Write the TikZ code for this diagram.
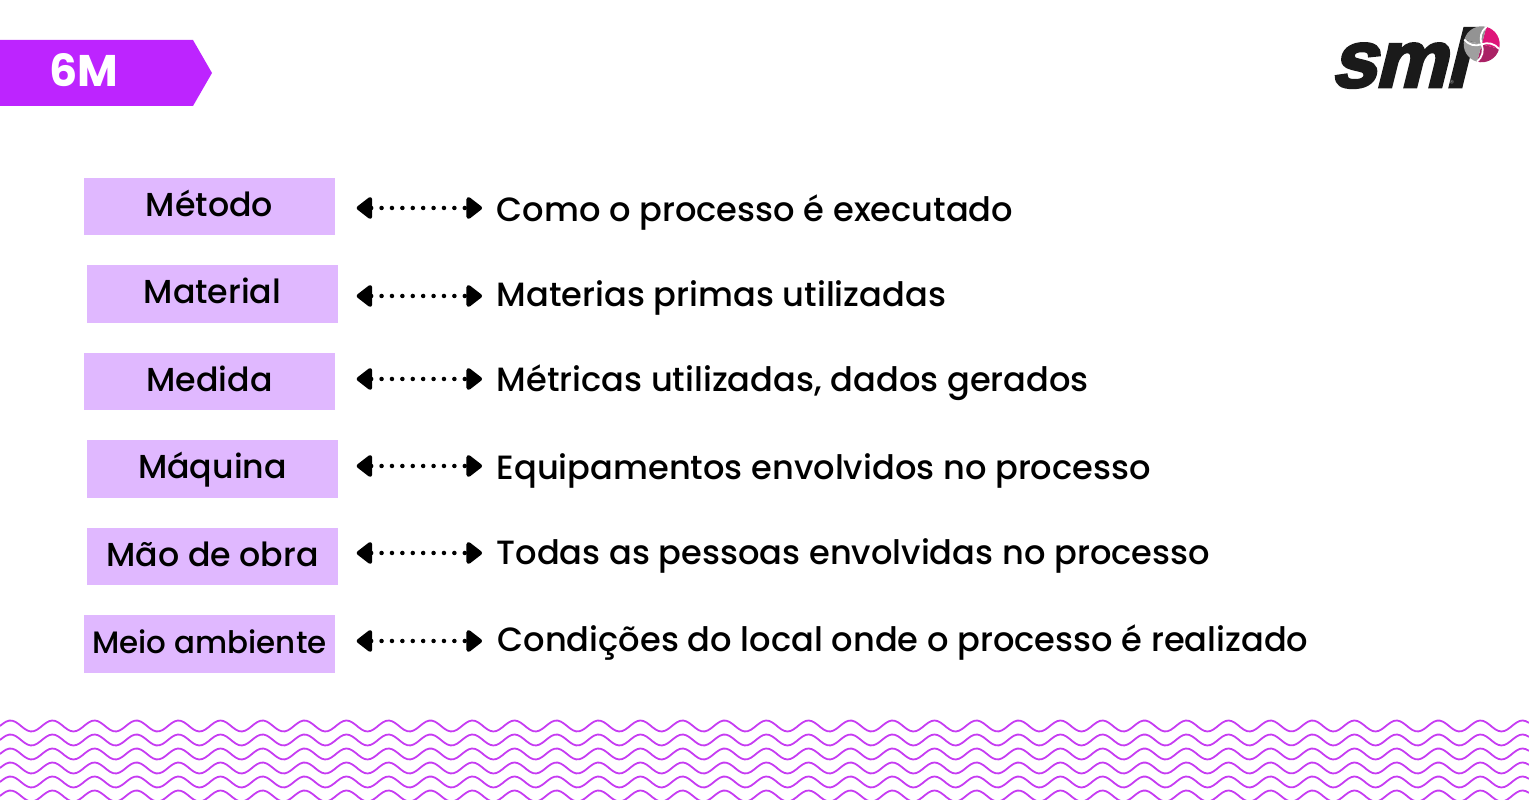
\documentclass[tikz,border=0pt]{standalone}
\usepackage{fontspec}
\setmainfont{Poppins Medium}[BoldFont=Poppins Bold]
\newfontfamily\logofont[FakeSlant=0.25,FakeBold=3.5,LetterSpace=-2]{Liberation Sans Bold}
\usepackage{xcolor}
\usetikzlibrary{arrows.meta,positioning,calc}
\definecolor{bannerpurple}{HTML}{BD24FF}
\definecolor{boxlilac}{HTML}{E0B8FF}
\definecolor{wavepurple}{HTML}{C63CF2}
\definecolor{logopink}{HTML}{DE1579}
\definecolor{logoblack}{HTML}{1A1A1A}
\tikzset{
  mbox/.style={fill=boxlilac,minimum width=2.51cm,minimum height=0.575cm,inner sep=0pt,text height=0.25cm,text depth=0.055cm,font=\fontsize{9.45}{12}\selectfont},
  desc/.style={anchor=west,inner sep=0pt,text height=0.25cm,text depth=0.09cm,font=\fontsize{9.57}{12}\selectfont},
  link/.style={line width=0.045cm,line cap=round,dash pattern=on 0pt off 0.104cm,{Triangle[length=0.17cm,width=0.25cm,round]}-{Triangle[length=0.17cm,width=0.25cm,round]}},
  wave/.style={wavepurple,line width=0.018cm}
}
\begin{document}
\begin{tikzpicture}
    \useasboundingbox (0,0) rectangle (15.29,8);
    \begin{scope}
    \clip (0,0) rectangle (15.29,8);
    \foreach \yrow in {0.04,0.18,...,0.74} {
        \draw[wave] plot[domain=0:15.29,samples=500] (\x,{\yrow+0.055*sin(\x/0.42*360)});
    }
    \end{scope}

    \fill[bannerpurple] (0,7.6) -- (1.93,7.6) -- (2.12,7.27) -- (1.93,6.94) -- (0,6.94) -- cycle;
    \node[white,font=\fontsize{12.6}{14}\bfseries] (title) at (0.84,7.3) {6M};

    \node[mbox] (metodo) at (2.095,5.935) {Método};
    \node[mbox] (material) at (2.125,5.06) {Material};
    \node[mbox] (medida) at (2.095,4.185) {Medida};
    \node[mbox] (maquina) at (2.125,3.31) {Máquina};
    \node[mbox] (maodeobra) at (2.125,2.435) {Mão de obra};
    \node[mbox,font=\fontsize{8.8}{12}\selectfont] (meio) at (2.095,1.56) {Meio ambiente};

    \node[desc] (dmetodo) at (4.96,5.86) {Como o processo é executado};
    \node[desc] (dmaterial) at (4.96,5.01) {Materias primas utilizadas};
    \node[desc] (dmedida) at (4.96,4.16) {Métricas utilizadas, dados gerados};
    \node[desc] (dmaquina) at (4.96,3.28) {Equipamentos envolvidos no processo};
    \node[desc] (dmaodeobra) at (4.96,2.43) {Todas as pessoas envolvidas no processo};
    \node[desc] (dmeio) at (4.97,1.56) {Condições do local onde o processo é realizado};

    \draw[link,shorten <=0.21cm,shorten >=0.14cm] (metodo.east |- 0,5.92) -- (dmetodo.west |- 0,5.92);
    \draw[link,shorten <=0.18cm,shorten >=0.14cm] (material.east |- 0,5.04) -- (dmaterial.west |- 0,5.04);
    \draw[link,shorten <=0.21cm,shorten >=0.14cm] (medida.east |- 0,4.21) -- (dmedida.west |- 0,4.21);
    \draw[link,shorten <=0.18cm,shorten >=0.14cm] (maquina.east |- 0,3.34) -- (dmaquina.west |- 0,3.34);
    \draw[link,shorten <=0.18cm,shorten >=0.14cm] (maodeobra.east |- 0,2.47) -- (dmaodeobra.west |- 0,2.47);
    \draw[link,shorten <=0.21cm,shorten >=0.15cm] (meio.east |- 0,1.59) -- (dmeio.west |- 0,1.59);

    % logo
    \node[anchor=base west,inner sep=0pt,logoblack,font=\fontsize{23}{24}\logofont] (logo) at (13.3,7.13) {sml};
    \node[anchor=center,inner sep=0pt,gray,font=\fontsize{2.5}{3}\selectfont] (reg) at (14.52,7.17) {®};
    \coordinate (pie) at (14.817,7.557);
    \fill[logopink] (pie) -- ++(75:0.18) arc (75:-15:0.18) -- cycle;
    \fill[logopink!80!black!85!gray] (pie) -- ++(-15:0.18) arc (-15:-105:0.18) -- cycle;
    \fill[gray!75] (pie) -- ++(-105:0.18) arc (-105:-195:0.18) -- cycle;
    \fill[gray!85] (pie) -- ++(165:0.18) arc (165:75:0.18) -- cycle;
    \foreach \spoke in {75,-15,-105,165} {
        \draw[white,line width=0.018cm] (pie) to[bend left=35] ($(pie)+(\spoke:0.18)$);
    }
\end{tikzpicture}
\end{document}
